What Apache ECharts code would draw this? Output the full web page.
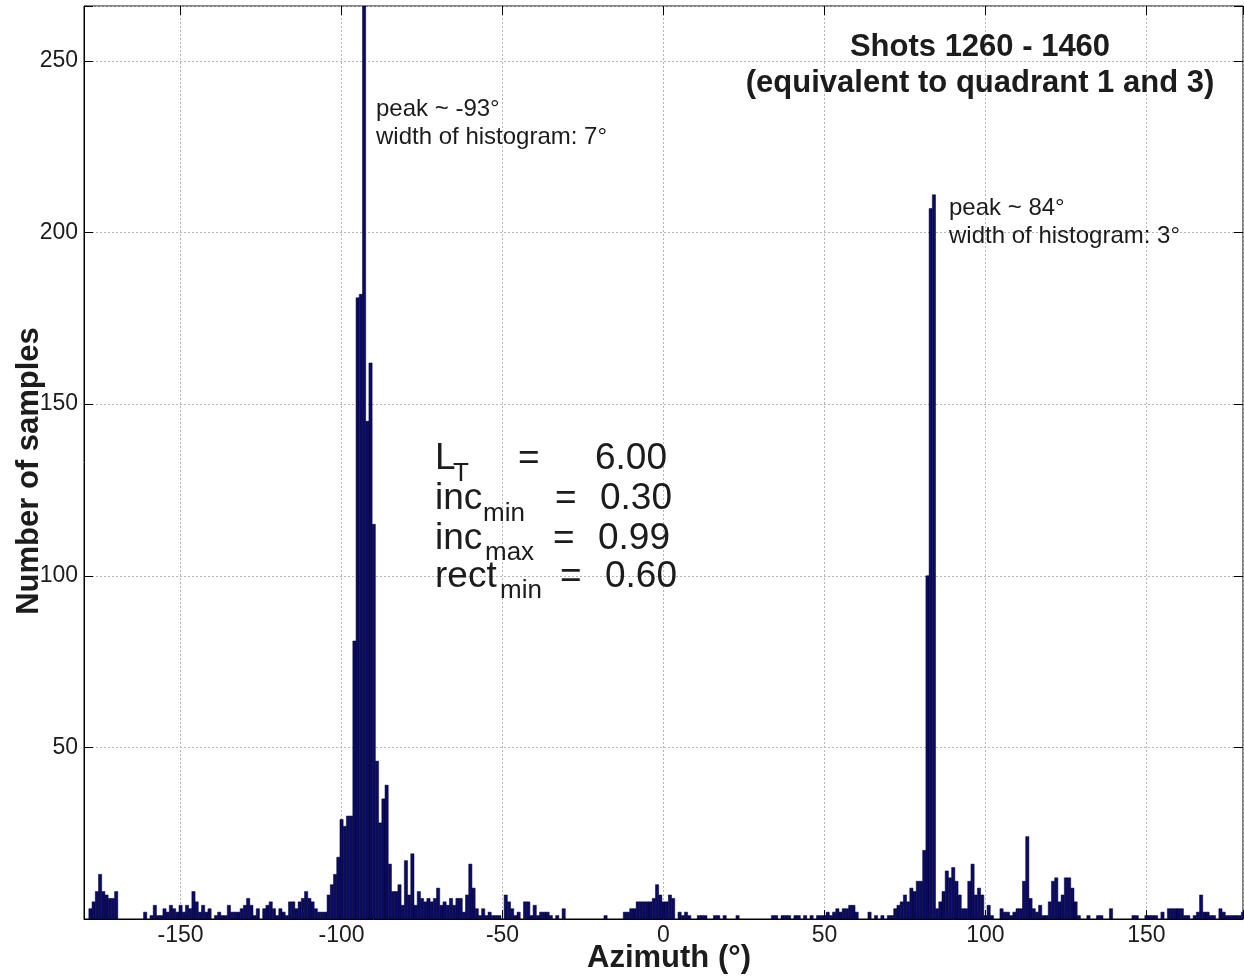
<!DOCTYPE html>
<html>
<head>
<meta charset="utf-8">
<script src="https://cdn.jsdelivr.net/npm/echarts@6/dist/echarts.min.js"></script>
<style>
html,body{margin:0;padding:0;background:#fff;}
#chart{width:1244px;height:980px;}
</style>
</head>
<body>
<div id="chart"></div>
<script>
// Histogram: 1-degree bins, bin centres at integer azimuths
const xTickLabels = [-150, -100, -50, 0, 50, 100, 150];
const yTickLabels = [50, 100, 150, 200, 250];

// counts for bins centred at -180 ... -131
const counts_m180 = [0,0,3,5,8,13,8,7,6,6, 8,0,0,0,0,0,0,0,0,2, 0,1,4,1,1,3,2,4,3,2, 4,2,4,3,8,5,2,4,2,3, 0,1,2,1,1,4,2,2,2,3];
// -130 ... -81
const counts_m130 = [4,6,4,1,3,0,3,4,5,3, 1,3,2,1,5,5,3,5,6,8, 6,5,3,2,2,2,7,10,13,18, 29,27,30,30,81,181,182,266,145,162, 115,46,28,35,39,16,8,8,10,4];
// -80 ... -31
const counts_m80 = [17,7,19,4,8,6,5,6,5,6, 9,4,5,4,6,4,6,6,2,7, 16,9,3,1,3,1,2,1,1,1, 0,7,5,3,1,2,0,5,5,1, 4,1,2,2,2,1,0,1,0,3];
// -30 ... 19
const counts_m30 = [0,0,0,0,0,0,0,0,0,0, 0,0,1,0,0,0,0,0,2,2, 3,3,5,5,5,5,5,6,10,7, 5,5,7,6,0,2,1,2,1,0, 0,1,1,1,0,0,1,1,0,1];
// 20 ... 69
const counts_p20 = [0,0,0,1,0,0,0,0,0,0, 0,0,0,0,1,1,0,1,1,1, 0,1,1,0,1,0,1,0,1,1, 1,2,1,2,3,2,3,3,4,4, 2,0,0,0,2,0,1,0,1,0];
// 70 ... 119
const counts_p70 = [1,1,3,4,5,7,5,9,8,11, 11,20,100,207,211,3,5,8,14,12, 15,11,7,3,3,11,16,7,9,7, 1,4,1,0,0,3,2,2,1,2, 3,3,11,24,6,3,2,4,1,1];
// 120 ... 180
const counts_p120 = [5,11,12,5,7,12,12,9,5,1, 0,0,1,0,0,1,1,0,0,3, 0,0,0,0,0,0,1,1,0,0, 1,1,1,1,0,2,0,3,3,3, 3,3,1,1,0,1,2,7,2,2, 1,1,0,3,2,1,1,1,1,1,2];

const segmentStarts = [-180, -130, -80, -30, 20, 70, 120];
const segmentCounts = [counts_m180, counts_m130, counts_m80, counts_m30, counts_p20, counts_p70, counts_p120];

const histData = [];
segmentCounts.forEach((arr, s) => {
  arr.forEach((c, i) => histData.push([segmentStarts[s] + i, c]));
});

const FONT = 'Liberation Sans, Arial, sans-serif';
const TXT = '#1c1c1c';

function renderBin(params, api) {
  const x = api.value(0);
  const y = api.value(1);
  if (!y) return null;
  const p0 = api.coord([x - 0.5, y]);
  const p1 = api.coord([x + 0.5, 0]);
  return {
    type: 'rect',
    shape: { x: p0[0], y: p0[1], width: p1[0] - p0[0], height: p1[1] - p0[1] },
    style: { fill: '#0b0b62', stroke: '#000030', lineWidth: 0.5 }
  };
}

function txt(text, x, y, size, opts) {
  opts = opts || {};
  return {
    type: 'text', x: x, y: y, z: 100, rotation: opts.rotation || 0,
    style: {
      text: text,
      font: (opts.bold ? 'bold ' : '') + size + 'px ' + FONT,
      fill: TXT,
      align: opts.align || 'left',
      verticalAlign: 'middle'
    }
  };
}

const gridLine = { show: true, lineStyle: { color: '#b5b5b5', type: [2, 2], width: 1 } };

const option = {
  animation: false,
  backgroundColor: '#fff',
  grid: { left: 84, right: 1, top: 6, bottom: 61, show: true, borderColor: '#000', borderWidth: 1,
          containLabel: false, outerBoundsMode: 'none' },
  xAxis: [{
    type: 'value', min: -180, max: 180, splitNumber: 7,
    axisLine: { show: true, onZero: false, lineStyle: { color: '#000', width: 1 } },
    axisTick: { show: true, inside: true, length: 9, lineStyle: { color: '#000' } },
    axisLabel: { fontFamily: FONT, fontSize: 23, color: TXT, margin: 5,
      formatter: v => (xTickLabels.indexOf(v) >= 0 ? String(v) : '') },
    splitLine: gridLine
  }, {
    type: 'value', min: -180, max: 180, splitNumber: 7, position: 'top',
    axisLine: { show: false, onZero: false },
    axisTick: { show: true, inside: true, length: 9, lineStyle: { color: '#000' } },
    axisLabel: { show: false }, splitLine: { show: false }
  }],
  yAxis: [{
    type: 'value', min: 0, max: 266, interval: 50,
    axisLine: { show: true, onZero: false, lineStyle: { color: '#000', width: 1 } },
    axisTick: { show: true, inside: true, length: 9, lineStyle: { color: '#000' } },
    axisLabel: { fontFamily: FONT, fontSize: 23, color: TXT, margin: 6,
      formatter: v => (yTickLabels.indexOf(v) >= 0 ? String(v) : '') },
    splitLine: gridLine
  }, {
    type: 'value', min: 0, max: 266, interval: 50, position: 'right',
    axisLine: { show: false, onZero: false },
    axisTick: { show: true, inside: true, length: 9, lineStyle: { color: '#000' } },
    axisLabel: { show: false }, splitLine: { show: false }
  }],
  series: [{
    type: 'custom', renderItem: renderBin, data: histData, clip: true,
    xAxisIndex: 0, yAxisIndex: 0, encode: { x: 0, y: 1 }
  }],
  graphic: [
    txt('Number of samples', 29, 471, 31, { bold: true, align: 'center', rotation: Math.PI / 2 }),
    txt('Azimuth (°)', 669, 958, 31, { bold: true, align: 'center' }),
    txt('Shots 1260 - 1460', 980, 47, 31, { bold: true, align: 'center' }),
    txt('(equivalent to quadrant 1 and 3)', 980, 83, 31, { bold: true, align: 'center' }),
    txt('peak ~ -93°', 376, 109, 24),
    txt('width of histogram: 7°', 376, 137, 24),
    txt('peak ~ 84°', 949, 208, 24),
    txt('width of histogram: 3°', 949, 236, 24),
    // parameter block
    txt('L', 435, 458.5, 37), txt('T', 453, 473.5, 26), txt('=', 518, 458.5, 37), txt('6.00', 595, 458.5, 37),
    txt('inc', 435, 498.5, 37), txt('min', 483, 514, 26), txt('=', 555, 498.5, 37), txt('0.30', 600, 498.5, 37),
    txt('inc', 435, 538.5, 37), txt('max', 485, 553, 26), txt('=', 553, 538.5, 37), txt('0.99', 598, 538.5, 37),
    txt('rect', 435, 576.5, 37), txt('min', 500, 591, 26), txt('=', 560, 576.5, 37), txt('0.60', 605, 576.5, 37)
  ]
};

const chart = echarts.init(document.getElementById('chart'), null, { renderer: 'canvas' });
chart.setOption(option);
</script>
</body>
</html>
